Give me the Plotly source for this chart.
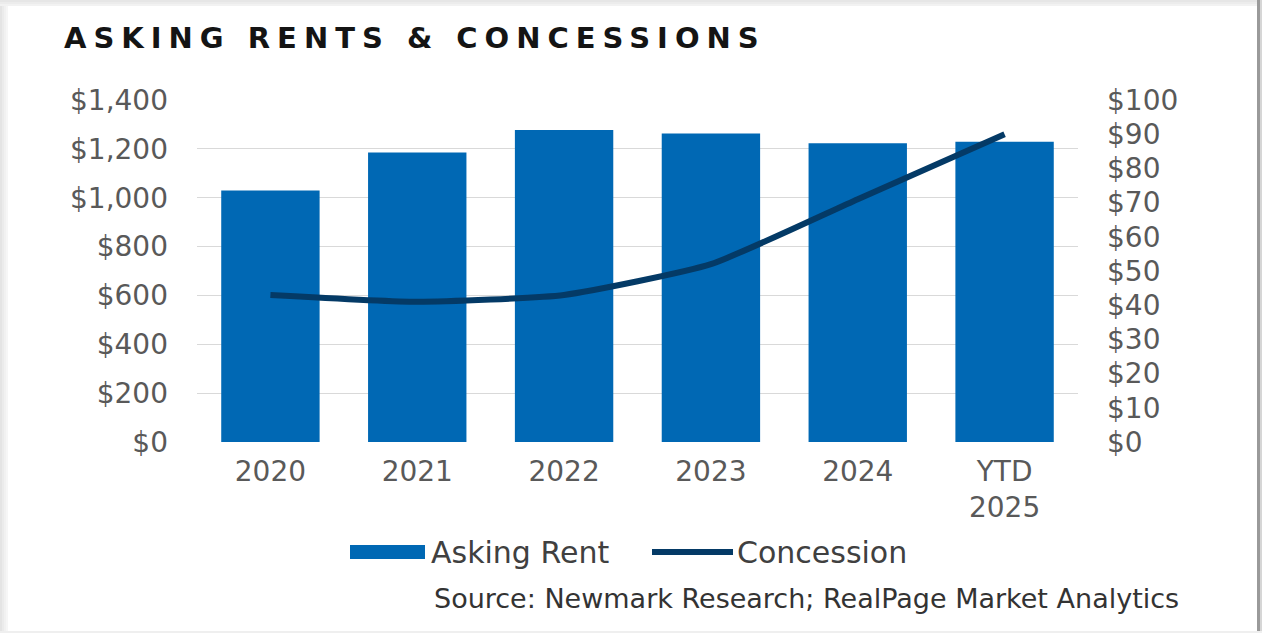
import plotly.graph_objects as go

# Market data
years = ["2020", "2021", "2022", "2023", "2024", "YTD<br>2025"]
asking_rent = [1030, 1185, 1277, 1263, 1223, 1229]
concession = [43, 41, 43, 52, 71, 90]

rent_ticks = list(range(0, 1401, 200))
rent_tick_labels = [f"${v:,}" for v in rent_ticks]
conc_ticks = list(range(0, 101, 10))
conc_tick_labels = [f"${v}" for v in conc_ticks]

W, H = 1262, 633
ML, MR, MT, MB = 197, 184, 100, 191
PW, PH = W - ML - MR, H - MT - MB

BAR_BLUE = "#0068b4"
NAVY = "#043a66"
TICK_GREY = "#595959"
FONT = "DejaVu Sans"


def px(x):
    return (x - ML) / PW


def py(y):
    return (H - MB - y) / PH


fig = go.Figure()
fig.add_trace(go.Bar(
    x=years, y=asking_rent, name="Asking Rent",
    marker=dict(color=BAR_BLUE, line=dict(width=0)),
    yaxis="y", hoverinfo="skip", showlegend=False,
))
fig.add_trace(go.Scatter(
    x=years, y=concession, name="Concession", mode="lines",
    line=dict(color=NAVY, width=6, shape="spline", smoothing=0.5),
    yaxis="y2", hoverinfo="skip", showlegend=False,
))

shapes = []
# card edges around the chart
for i, c in enumerate(["#e4e4e4", "#ebebeb", "#f1f1f1", "#f6f6f6"]):
    shapes.append(dict(type="rect", xref="paper", yref="paper",
                       x0=px(2 * i), x1=px(2 * i + 2), y0=py(H), y1=py(0),
                       fillcolor=c, line=dict(width=0), layer="below"))
for i, c in enumerate(["#e6e6e6", "#ececec", "#f2f2f2"]):
    shapes.append(dict(type="rect", xref="paper", yref="paper",
                       x0=px(0), x1=px(W), y0=py(2 * i + 2), y1=py(2 * i),
                       fillcolor=c, line=dict(width=0), layer="below"))
shapes.append(dict(type="rect", xref="paper", yref="paper",
                   x0=px(1257), x1=px(1260), y0=py(H), y1=py(0),
                   fillcolor="#9a9a9a", line=dict(width=0)))
shapes.append(dict(type="rect", xref="paper", yref="paper",
                   x0=px(1260), x1=px(W), y0=py(H), y1=py(0),
                   fillcolor="#d6d6d6", line=dict(width=0)))
shapes.append(dict(type="rect", xref="paper", yref="paper",
                   x0=px(0), x1=px(W), y0=py(H), y1=py(H - 2),
                   fillcolor="#efefef", line=dict(width=0)))

# legend keys
shapes.append(dict(type="rect", xref="paper", yref="paper",
                   x0=px(350), x1=px(425), y0=py(559), y1=py(545),
                   fillcolor=BAR_BLUE, line=dict(width=0)))
shapes.append(dict(type="line", xref="paper", yref="paper",
                   x0=px(652), x1=px(733), y0=py(552), y1=py(552),
                   line=dict(color=NAVY, width=6)))

annotations = [
    dict(text="<span style='letter-spacing:7px'>ASKING RENTS &amp; CONCESSIONS</span>",
         xref="paper", yref="paper", x=px(62), y=py(38),
         xanchor="left", yanchor="middle", showarrow=False,
         font=dict(family=FONT, size=29, color="#141414", weight="bold")),
    dict(text="Asking Rent", xref="paper", yref="paper", x=px(429), y=py(552),
         xanchor="left", yanchor="middle", showarrow=False,
         font=dict(family=FONT, size=30, color="#404040")),
    dict(text="Concession", xref="paper", yref="paper", x=px(735), y=py(552),
         xanchor="left", yanchor="middle", showarrow=False,
         font=dict(family=FONT, size=30, color="#404040")),
    dict(text="Source: Newmark Research; RealPage Market Analytics",
         xref="paper", yref="paper", x=px(432), y=py(598),
         xanchor="left", yanchor="middle", showarrow=False,
         font=dict(family=FONT, size=27, color="#333333")),
]

fig.update_layout(
    width=W, height=H, autosize=False,
    margin=dict(l=ML, r=MR, t=MT, b=MB, pad=0),
    paper_bgcolor="white", plot_bgcolor="white",
    bargap=0.33, showlegend=False,
    font=dict(family=FONT, size=28, color=TICK_GREY),
    xaxis=dict(type="category", showgrid=False, showline=False, ticks="",
               zeroline=False, tickfont=dict(family=FONT, size=28, color=TICK_GREY),
               ticklabelstandoff=10, fixedrange=True),
    yaxis=dict(range=[0, 1400], tickvals=rent_ticks, ticktext=rent_tick_labels,
               showgrid=True, gridcolor="#d9d9d9", gridwidth=1,
               zeroline=False, showline=False, ticks="",
               tickfont=dict(family=FONT, size=28, color=TICK_GREY),
               ticklabelstandoff=28, fixedrange=True),
    yaxis2=dict(range=[0, 100], tickvals=conc_ticks, ticktext=conc_tick_labels,
                overlaying="y", side="right", showgrid=False, zeroline=False,
                showline=False, ticks="",
                tickfont=dict(family=FONT, size=28, color=TICK_GREY),
                ticklabelstandoff=28, fixedrange=True),
    shapes=shapes, annotations=annotations,
)

fig.write_html("out.html", config=dict(displayModeBar=False, staticPlot=True))
